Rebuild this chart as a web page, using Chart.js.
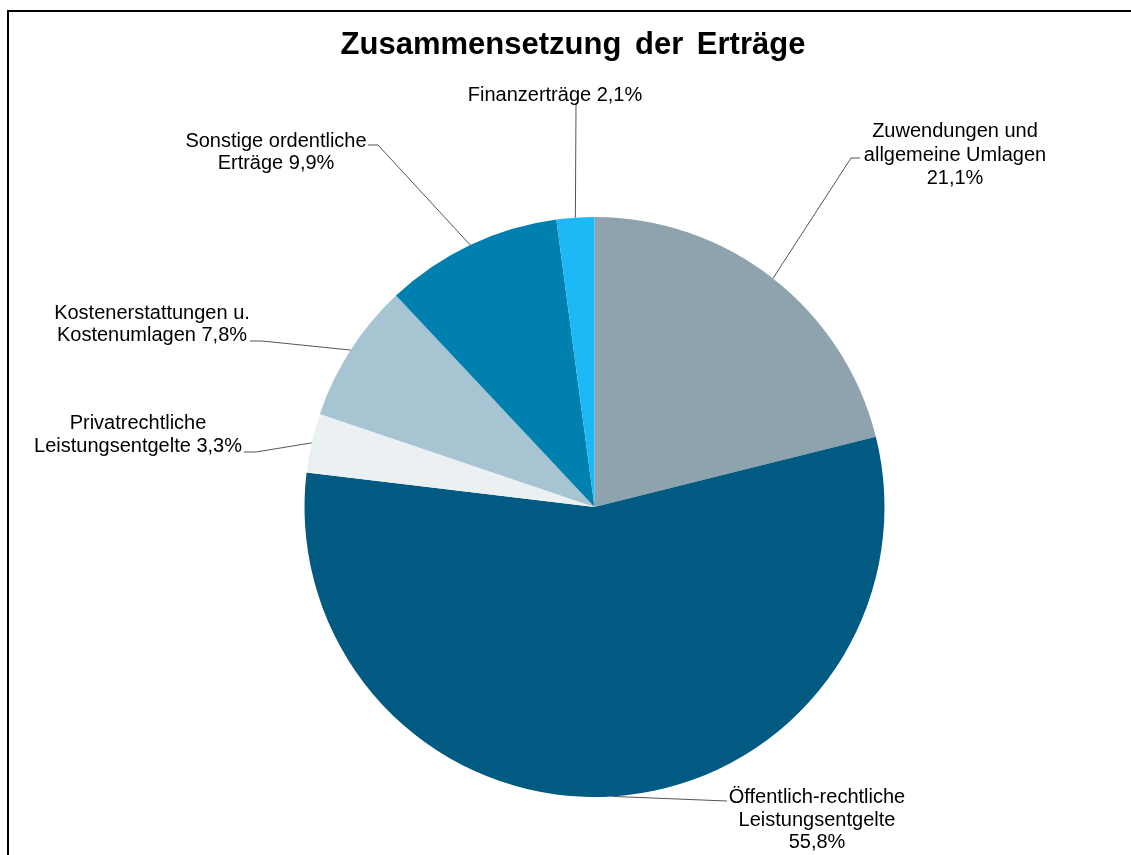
<!DOCTYPE html>
<html>
<head>
<meta charset="utf-8">
<script src="https://cdn.jsdelivr.net/npm/chart.js@4/dist/chart.umd.min.js"></script>
<style>
  html, body { margin: 0; padding: 0; background: #ffffff; }
  #wrap { position: relative; width: 1131px; height: 855px; }
  canvas { display: block; }
</style>
</head>
<body>
<div id="wrap"><canvas id="c" width="1131" height="855"></canvas></div>
<script>
// ---- data ----
const title = "Zusammensetzung der Erträge";
const categories = [
  "Zuwendungen und allgemeine Umlagen",
  "Öffentlich-rechtliche Leistungsentgelte",
  "Privatrechtliche Leistungsentgelte",
  "Kostenerstattungen u. Kostenumlagen",
  "Sonstige ordentliche Erträge",
  "Finanzerträge"
];
const values = [21.1, 55.8, 3.3, 7.8, 9.9, 2.1];
// label text lines; the percentage is appended to the last line
const labelLines = [
  ["Zuwendungen und", "allgemeine Umlagen", ""],
  ["Öffentlich-rechtliche", "Leistungsentgelte", ""],
  ["Privatrechtliche", "Leistungsentgelte "],
  ["Kostenerstattungen u.", "Kostenumlagen "],
  ["Sonstige ordentliche", "Erträge "],
  ["Finanzerträge "]
];

// ---- styles / layout ----
const colors = ["#8EA3AE", "#005A82", "#EBF0F3", "#A6C4D1", "#0080AE", "#1DB8F6"];
const labelLayout = [
  { cx: 955, ys: [131, 155, 178], path: [[851, 158], [860, 158]] },
  { cx: 817, ys: [797, 820, 842], path: [[727, 801]] },
  { cx: 138, ys: [423, 446], path: [[256, 452], [244, 452]] },
  { cx: 152, ys: [313, 335], path: [[262, 341], [250, 341]] },
  { cx: 276, ys: [141, 163], path: [[378, 145], [368, 145]] },
  { cx: 555, ys: [95], path: [[576, 104]] }
];

function fmtPct(v) { return v.toFixed(1).replace(".", ",") + "%"; }

const labelPlugin = {
  id: "labels",
  beforeDraw(chart) {
    const ctx = chart.ctx;
    ctx.save();
    ctx.fillStyle = "#ffffff";
    ctx.fillRect(0, 0, chart.width, chart.height);
    ctx.fillStyle = "#000000";
    ctx.fillRect(7, 10, 2, chart.height - 10);
    ctx.fillRect(7, 10, chart.width - 7, 2);
    ctx.restore();
  },
  afterDraw(chart) {
    const ctx = chart.ctx;
    ctx.save();
    // title
    ctx.fillStyle = "#000000";
    ctx.font = "bold 31px 'Liberation Sans', Arial, sans-serif";
    ctx.textAlign = "center";
    ctx.textBaseline = "middle";
    try { ctx.wordSpacing = "5px"; } catch (e) {}
    ctx.fillText(title, 573, 45);
    try { ctx.wordSpacing = "0px"; } catch (e) {}

    const meta = chart.getDatasetMeta(0);
    meta.data.forEach((arc, i) => {
      const p = arc.getProps(["x", "y", "startAngle", "endAngle", "outerRadius"], true);
      const mid = (p.startAngle + p.endAngle) / 2;
      const ax = p.x + Math.cos(mid) * p.outerRadius;
      const ay = p.y + Math.sin(mid) * p.outerRadius;
      const lay = labelLayout[i];
      // leader line
      ctx.strokeStyle = "#555555";
      ctx.lineWidth = 1;
      ctx.beginPath();
      ctx.moveTo(ax, ay);
      lay.path.forEach(pt => ctx.lineTo(pt[0], pt[1]));
      ctx.stroke();
      // text
      const lines = labelLines[i].slice();
      lines[lines.length - 1] = lines[lines.length - 1] + fmtPct(values[i]);
      ctx.fillStyle = "#000000";
      ctx.font = "20px 'Liberation Sans', Arial, sans-serif";
      ctx.textAlign = "center";
      ctx.textBaseline = "middle";
      lines.forEach((ln, k) => ctx.fillText(ln, lay.cx, lay.ys[k]));
    });
    ctx.restore();
  }
};

new Chart(document.getElementById("c"), {
  type: "pie",
  data: {
    labels: categories,
    datasets: [{
      data: values,
      backgroundColor: colors,
      borderWidth: 0
    }]
  },
  options: {
    responsive: false,
    devicePixelRatio: 1,
    animation: false,
    layout: { padding: { left: 304.5, right: 246.5, top: 217, bottom: 58 } },
    plugins: {
      legend: { display: false },
      tooltip: { enabled: false },
      title: { display: false }
    }
  },
  plugins: [labelPlugin]
});
</script>
</body>
</html>
